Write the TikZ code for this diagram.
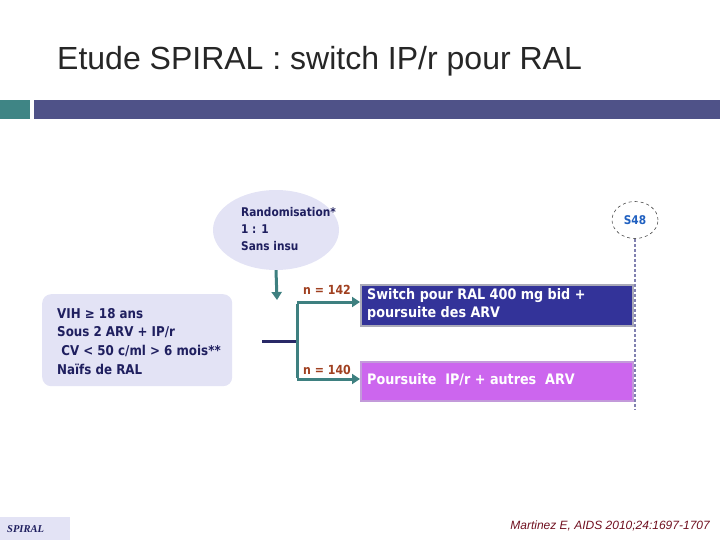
\documentclass[tikz,border=0pt]{standalone}
\usepackage{fontspec}
\setmainfont{Liberation Sans}
\newfontfamily\bodyf[FakeStretch=0.88]{DejaVu Sans}
\newfontfamily\serf{Liberation Serif}
\usetikzlibrary{arrows.meta,shapes.geometric}
\definecolor{teal1}{HTML}{3F8585}
\definecolor{purp1}{HTML}{4F5288}
\definecolor{lav}{HTML}{E3E3F5}
\definecolor{navy}{HTML}{1F1F5F}
\definecolor{darkblue}{HTML}{333399}
\definecolor{violet1}{HTML}{CC66EE}
\definecolor{brown1}{HTML}{A04020}
\definecolor{cite}{HTML}{701020}
\definecolor{sblue}{HTML}{2060C0}
\definecolor{dotc}{HTML}{8080B0}
\definecolor{arr}{HTML}{3E8080}
\tikzset{
  bodytxt/.style={text=navy, align=left, anchor=north west, inner sep=0pt},
  armbox/.style={draw=#1, line width=1.5pt, minimum width=272pt, anchor=north west, inner sep=0pt},
  armtxt/.style={font=\bodyf\bfseries\fontsize{14.5}{18}\selectfont, text=white, align=left, inner sep=0pt},
  tarrow/.style={draw=arr, line width=3pt, -{Triangle[length=8pt,width=10pt]}},
  nlab/.style={font=\bodyf\bfseries\fontsize{12.5}{14}\selectfont, text=brown1, anchor=base west, inner sep=0pt}
}
\begin{document}
\begin{tikzpicture}[x=1pt,y=-1pt]
\useasboundingbox (0,0) rectangle (720,540);
% title
\node[anchor=base west, font=\fontsize{32}{36}\selectfont, text=black!85, inner sep=0pt] (title) at (57,70) {Etude SPIRAL : switch IP/r pour RAL};
% bars
\fill[teal1] (0,100) rectangle (30,119);
\fill[purp1] (33.5,100) rectangle (720,119);
% ellipse
\node[ellipse, fill=lav, minimum width=126pt, minimum height=80pt] (rand) at (276,230) {};
\node[bodytxt, font=\bodyf\bfseries\fontsize{12}{17}\selectfont] (randtxt) at (241,207) {Randomisation*\\1 : 1\\Sans insu};
% S48
\node[ellipse, draw=black!70, dashed, line width=0.6pt, minimum width=46pt, minimum height=37pt, inner sep=0pt, font=\bodyf\bfseries\fontsize{12}{12}\selectfont, text=sblue] (s48) at (635,220) {S48};
\coordinate (dend) at (635,409);
\draw[dotc, line width=2pt, dash pattern=on 3pt off 2pt] (s48.south) -- (dend);
% left box
\node[fill=lav, rounded corners=9pt, minimum width=190pt, minimum height=92pt, anchor=north west] (crit) at (42,294) {};
\node[bodytxt, font=\bodyf\bfseries\fontsize{13.5}{18.7}\selectfont] (crittxt) at (57,308) {VIH ≥ 18 ans\\Sous 2 ARV + IP/r\\\ CV < 50 c/ml > 6 mois**\\Naïfs de RAL};
% arms
\node[armbox=black!25!lav, fill=darkblue, minimum height=41pt] (arm1) at (360,284) {};
\node[armtxt, anchor=north west] (arm1t) at (367,288) {Switch pour RAL 400 mg bid +\\poursuite des ARV};
\node[armbox=black!20!violet1!50!lav, fill=violet1, minimum height=39pt] (arm2) at (360,361) {};
\node[armtxt, anchor=west] (arm2t) at (367,380) {Poursuite\ \ IP/r + autres\ \ ARV};
% connectors
\coordinate (brtop) at (297,302);
\coordinate (brbot) at (297,379);
\coordinate (brmid) at (297,341);
\coordinate (lstart) at (262,341);
\coordinate (arrend) at (277,300);
\draw[tarrow] (rand.south) -- (arrend);
\draw[navy!80!purp1, line width=3pt] (lstart) -- (brmid);
\draw[arr, line width=3pt] ([yshift=-1.5pt]brtop) -- ([yshift=1.5pt]brbot);
\draw[tarrow] (brtop) -- (arm1.west |- brtop);
\draw[tarrow] (brbot) -- (arm2.west |- brbot);
\node[nlab] (n1) at (303,294) {n = 142};
\node[nlab] (n2) at (303,374) {n = 140};
% footer
\fill[lav] (0,517) rectangle (70,540);
\node[font=\serf\bfseries\itshape\fontsize{10.5}{12}\selectfont, text=navy, anchor=west, inner sep=0pt] (spiral) at (7,529) {SPIRAL};
\node[font=\itshape\fontsize{12}{14}\selectfont, text=cite, anchor=base east, inner sep=0pt] (citation) at (710,529) {Martinez E, AIDS 2010;24:1697-1707};
\end{tikzpicture}
\end{document}
